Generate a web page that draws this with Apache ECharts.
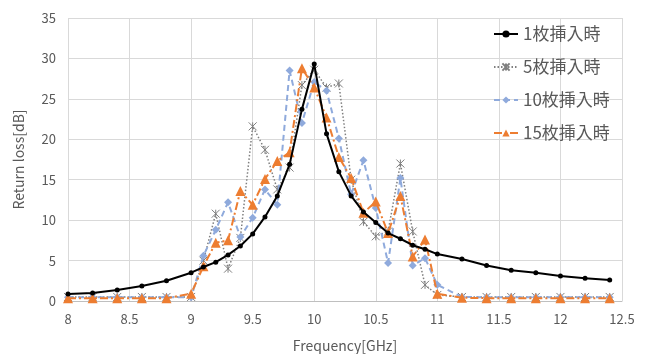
<!DOCTYPE html>
<html>
<head>
<meta charset="utf-8">
<script src="https://cdn.jsdelivr.net/npm/echarts@6/dist/echarts.min.js"></script>
<style>
html,body{margin:0;padding:0;background:#fff;}
#c{width:652px;height:354px;}
</style>
</head>
<body>
<div id="c"></div>
<script>
var freq = [8.0,8.2,8.4,8.6,8.8,9.0,9.1,9.2,9.3,9.4,9.5,9.6,9.7,9.8,9.9,10.0,10.1,10.2,10.3,10.4,10.5,10.6,10.7,10.8,10.9,11.0,11.2,11.4,11.6,11.8,12.0,12.2,12.4];
var s1  = [0.87,1.0,1.36,1.85,2.5,3.5,4.2,4.8,5.7,6.8,8.3,10.4,13.0,16.9,23.7,29.3,20.7,16.0,13.0,11.0,9.7,8.4,7.7,6.9,6.4,5.8,5.2,4.4,3.8,3.5,3.1,2.8,2.6];
var s5  = [0.5,0.5,0.5,0.5,0.5,0.5,5.0,10.8,4.0,7.8,21.6,18.7,13.8,16.5,26.7,28.6,26.4,26.9,15.0,9.8,8.0,8.6,17.0,8.6,2.0,0.75,0.5,0.5,0.5,0.5,0.5,0.5,0.5];
var s10 = [0.45,0.45,0.45,0.45,0.45,0.45,5.6,8.8,12.2,7.9,10.3,13.8,11.9,28.5,22.0,27.1,26.0,20.1,13.2,17.4,11.5,4.7,15.2,4.4,5.3,2.0,0.5,0.45,0.45,0.45,0.45,0.45,0.45];
var s15 = [0.35,0.35,0.35,0.35,0.35,0.9,4.3,7.2,7.5,13.6,11.9,15.1,17.3,18.4,28.8,26.4,22.7,17.8,15.2,10.9,12.3,8.4,13.0,5.5,7.6,0.9,0.4,0.35,0.35,0.35,0.35,0.35,0.35];
var names = ['1枚挿入時','5枚挿入時','10枚挿入時','15枚挿入時'];

function pairs(ys){ return freq.map(function(f,i){ return [f, ys[i]]; }); }

var asterisk = 'path://M0,0L10,10M10,0L0,10M5,0L5,10';
var font = '"Noto Sans CJK JP","Noto Sans",sans-serif';
var chart = echarts.init(document.getElementById('c'), null, {renderer:'canvas'});
chart.setOption({
  animation:false,
  backgroundColor:'#ffffff',
  textStyle:{fontFamily:font},
  grid:{left:68,right:30,top:18,bottom:53,containLabel:false,outerBoundsMode:'none'},
  xAxis:{
    type:'value',min:8,max:12.5,interval:0.5,
    name:'Frequency[GHz]',nameLocation:'middle',nameGap:38,
    nameTextStyle:{color:'#595959',fontSize:14,fontFamily:font},
    axisLine:{show:true,lineStyle:{color:'#bfbfbf',width:1}},
    axisTick:{show:false},
    axisLabel:{color:'#595959',fontSize:13,margin:12,fontFamily:font},
    splitLine:{show:true,lineStyle:{color:'#d9d9d9',width:1}}
  },
  yAxis:{
    type:'value',min:0,max:35,interval:5,
    name:'Return loss[dB]',nameLocation:'middle',nameGap:42,
    nameTextStyle:{color:'#595959',fontSize:14,fontFamily:font},
    axisLine:{show:false},
    axisTick:{show:false},
    axisLabel:{color:'#595959',fontSize:13,margin:12,fontFamily:font},
    splitLine:{show:true,lineStyle:{color:'#d9d9d9',width:1}}
  },
  legend:{
    orient:'vertical',left:493,top:25,padding:0,
    itemWidth:24,itemHeight:9,itemGap:15,
    textStyle:{color:'#595959',fontSize:17,lineHeight:18,fontFamily:font},
    data:names
  },
  series:[
    {name:names[0],type:'line',data:pairs(s1),symbol:'circle',symbolSize:5,
     lineStyle:{color:'#000000',width:2},itemStyle:{color:'#000000'},z:5},
    {name:names[1],type:'line',data:pairs(s5),symbol:asterisk,symbolSize:8,
     lineStyle:{color:'#7f7f7f',width:1.5,type:[1.5,2]},
     itemStyle:{color:'#7f7f7f',borderColor:'#7f7f7f',borderWidth:1},z:2},
    {name:names[2],type:'line',data:pairs(s10),symbol:'diamond',symbolSize:8,
     lineStyle:{color:'#8faadc',width:2,type:[6,4]},itemStyle:{color:'#8faadc'},z:3},
    {name:names[3],type:'line',data:pairs(s15),symbol:'triangle',symbolSize:10,
     lineStyle:{color:'#ed7d31',width:2,type:[8,3,2,3]},itemStyle:{color:'#ed7d31'},z:4}
  ]
});
</script>
</body>
</html>
